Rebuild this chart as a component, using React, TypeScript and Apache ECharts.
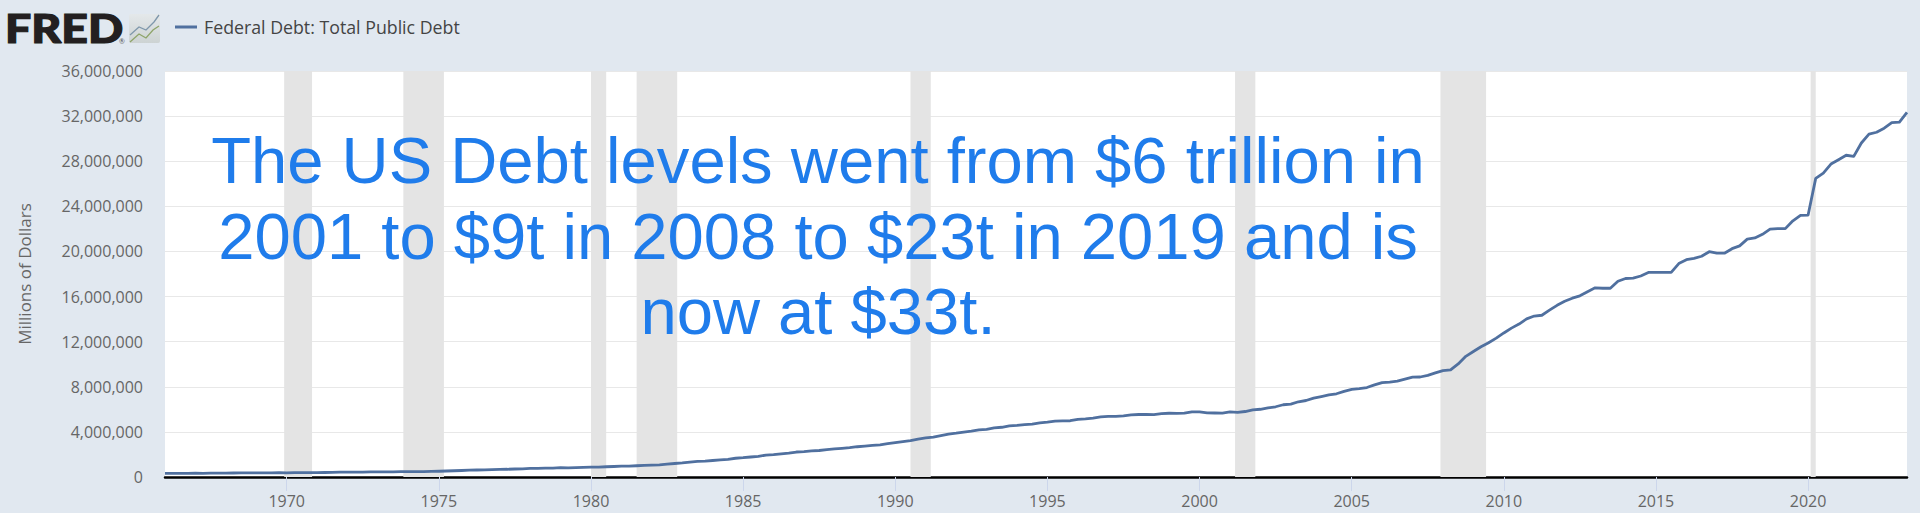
import React, { useEffect, useRef } from "react";
import * as echarts from "echarts";

const seriesName = "Federal Debt: Total Public Debt";
const yAxisName = "Millions of Dollars";
const firstYear = 1966;
const debtMillions = [
  320999, 316097, 324748, 329319,
  330947, 322893, 337000, 344663,
  351729, 353720, 358029, 368685,
  365769, 359420, 367144, 376000,
  372007, 382603, 389158, 389158,
  391000, 398130, 412000, 424131,
  427260, 427260, 436000, 449298,
  458000, 458000, 462000, 469898,
  474000, 474000, 483000, 492666,
  508000, 533189, 553000, 576649,
  601000, 620000, 635000, 653000,
  680000, 685000, 709000, 729000,
  757000, 771000, 780000, 789000,
  825000, 812000, 827000, 845000,
  873000, 884000, 907000, 930000,
  964000, 971000, 997000, 1028000,
  1061000, 1084000, 1142000, 1197000,
  1244000, 1319000, 1377000, 1410000,
  1463000, 1518000, 1572000, 1663000,
  1710000, 1774000, 1824000, 1945000,
  1986000, 2059000, 2125000, 2215000,
  2246000, 2310000, 2350000, 2431000,
  2487000, 2547000, 2602000, 2684000,
  2740000, 2799000, 2857000, 2953000,
  3053000, 3143000, 3233000, 3365000,
  3465000, 3538000, 3665000, 3801000,
  3881000, 3984000, 4065000, 4177000,
  4230000, 4352000, 4411000, 4536000,
  4576000, 4645000, 4692000, 4801000,
  4864000, 4951000, 4974000, 4989000,
  5118000, 5161000, 5225000, 5323000,
  5380000, 5376000, 5413000, 5502000,
  5542000, 5548000, 5526000, 5614000,
  5651000, 5639000, 5656000, 5776000,
  5773000, 5685000, 5674000, 5662000,
  5773000, 5727000, 5807000, 5943000,
  6006000, 6126000, 6228000, 6405000,
  6460000, 6670000, 6783000, 6998000,
  7131000, 7274000, 7379000, 7596000,
  7776000, 7836000, 7933000, 8170000,
  8371000, 8420000, 8507000, 8680000,
  8849000, 8867000, 9008000, 9229000,
  9437000, 9492000, 10025000, 10700000,
  11127000, 11545000, 11910000, 12311000,
  12773000, 13202000, 13562000, 14025000,
  14271000, 14343000, 14790000, 15223000,
  15582000, 15856000, 16066000, 16433000,
  16772000, 16738000, 16738000, 17352000,
  17602000, 17633000, 17824000, 18141000,
  18152000, 18152000, 18151000, 18922000,
  19264000, 19381000, 19573000, 19977000,
  19846000, 19845000, 20245000, 20493000,
  21090000, 21195000, 21516000, 21974000,
  22028000, 22023000, 22719000, 23201000,
  23224000, 26477000, 26945000, 27748000,
  28133000, 28529000, 28429000, 29617000,
  30401000, 30569000, 30929000, 31420000,
  31458000, 32333000,
];
// Recession bands as [year, month] pairs
const recessions = [
  [[1969, 12], [1970, 11]],
  [[1973, 11], [1975, 3]],
  [[1980, 1], [1980, 7]],
  [[1981, 7], [1982, 11]],
  [[1990, 7], [1991, 3]],
  [[2001, 3], [2001, 11]],
  [[2007, 12], [2009, 6]],
  [[2020, 2], [2020, 4]],
];
const xTickYears = [1970, 1975, 1980, 1985, 1990, 1995, 2000, 2005, 2010, 2015, 2020];
const annotationLines = [
  "The US Debt levels went from $6 trillion in",
  "2001 to $9t in 2008 to $23t in 2019 and is",
  "now at $33t.",
];

const toYear = ([y, m]: number[]) => y + (m - 1) / 12;
const lineData = debtMillions.map((v, i) => [firstYear + i / 4, v]);
const UI_FONT = '"Open Sans", sans-serif';

export default function App() {
  const ref = useRef<HTMLDivElement>(null);
  useEffect(() => {
    document.body.style.margin = "0";
    const chart = echarts.init(ref.current!, undefined, { renderer: "svg" });
    chart.setOption({
      animation: false,
      backgroundColor: "#e1e8f0",
      grid: { left: 165, right: 13, top: 71, bottom: 36, show: true, backgroundColor: "#ffffff", borderWidth: 0 },
      legend: {
        left: 170,
        top: 13,
        icon: "rect",
        itemWidth: 22,
        itemHeight: 3,
        itemGap: 0,
        textStyle: { fontFamily: UI_FONT, fontSize: 17.75, color: "#444444", padding: [0, 0, 0, 2] },
        data: [seriesName],
      },
      xAxis: {
        type: "value",
        min: firstYear,
        max: 2023.25,
        splitLine: { show: false },
        axisLine: { show: true, onZero: true, lineStyle: { color: "#000000", width: 2.5 } },
        axisTick: {
          show: true,
          length: 14,
          lineStyle: { color: "#ccd6eb", width: 1 },
          customValues: xTickYears,
        },
        axisLabel: {
          fontFamily: UI_FONT,
          fontSize: 16,
          color: "#666666",
          margin: 16,
          customValues: xTickYears,
          formatter: (v: number) => String(v),
        },
      },
      yAxis: {
        type: "value",
        min: 0,
        max: 36000000,
        interval: 4000000,
        name: yAxisName,
        nameLocation: "middle",
        nameGap: 132,
        nameTextStyle: { fontFamily: UI_FONT, fontSize: 17, color: "#666666" },
        axisLine: { show: false },
        axisTick: { show: false },
        axisLabel: {
          fontFamily: UI_FONT,
          fontSize: 16,
          color: "#666666",
          margin: 22,
          formatter: (v: number) => v.toLocaleString("en-US"),
        },
        splitLine: { show: true, lineStyle: { color: "#e8e8e8", width: 1 } },
      },
      series: [
        {
          name: "Recessions",
          type: "line",
          data: [],
          z: 1,
          silent: true,
          markArea: {
            silent: true,
            itemStyle: { color: "#e4e4e4", opacity: 1 },
            data: recessions.map(([a, b]) => [{ xAxis: toYear(a) }, { xAxis: toYear(b) }]),
          },
        },
        {
          name: seriesName,
          type: "line",
          data: lineData,
          z: 3,
          showSymbol: false,
          smooth: false,
          color: "#50709f",
          lineStyle: { color: "#50709f", width: 2.8, join: "round" },
        },
      ],
      graphic: [
        {
          type: "text",
          x: 5,
          y: 47,
          scaleX: 1.16,
          z: 20,
          style: {
            text: "FRED",
            font: "900 40px Lato, sans-serif",
            fill: "#231f20",
            stroke: "#231f20",
            lineWidth: 1.2,
            textVerticalAlign: "bottom",
          },
        },
        {
          type: "text",
          x: 119,
          y: 37,
          z: 20,
          style: { text: "®", font: "7px Lato, sans-serif", fill: "#555555" },
        },
        {
          type: "rect",
          z: 20,
          shape: { x: 129, y: 14, width: 31, height: 29, r: 2 },
          style: {
            fill: new echarts.graphic.LinearGradient(0, 0, 0, 1, [
              { offset: 0, color: "#e4e8ea" },
              { offset: 1, color: "#cdd3d3" },
            ]),
          },
        },
        {
          type: "polyline",
          z: 21,
          shape: { points: [[130, 35], [139, 27], [146, 30], [154, 22], [159, 15]] },
          style: { stroke: "#7f97ab", lineWidth: 1.3, fill: "none" },
        },
        {
          type: "polyline",
          z: 21,
          shape: { points: [[130, 42], [139, 34], [146, 38], [153, 30], [159, 26]] },
          style: { stroke: "#8ea469", lineWidth: 1.3, fill: "none" },
        },
        ...annotationLines.map((t, i) => ({
          type: "text",
          x: 818,
          y: [193, 269, 344][i],
          z: 30,
          style: {
            text: t,
            font: '65.2px "Liberation Sans", Arial, sans-serif',
            fill: "#1f7ceb",
            textAlign: "center",
            textVerticalAlign: "bottom",
          },
        })),
      ],
    });
    return () => chart.dispose();
  }, []);
  return <div ref={ref} style={{ position: "fixed", left: 0, top: 0, width: 1920, height: 513 }} />;
}
